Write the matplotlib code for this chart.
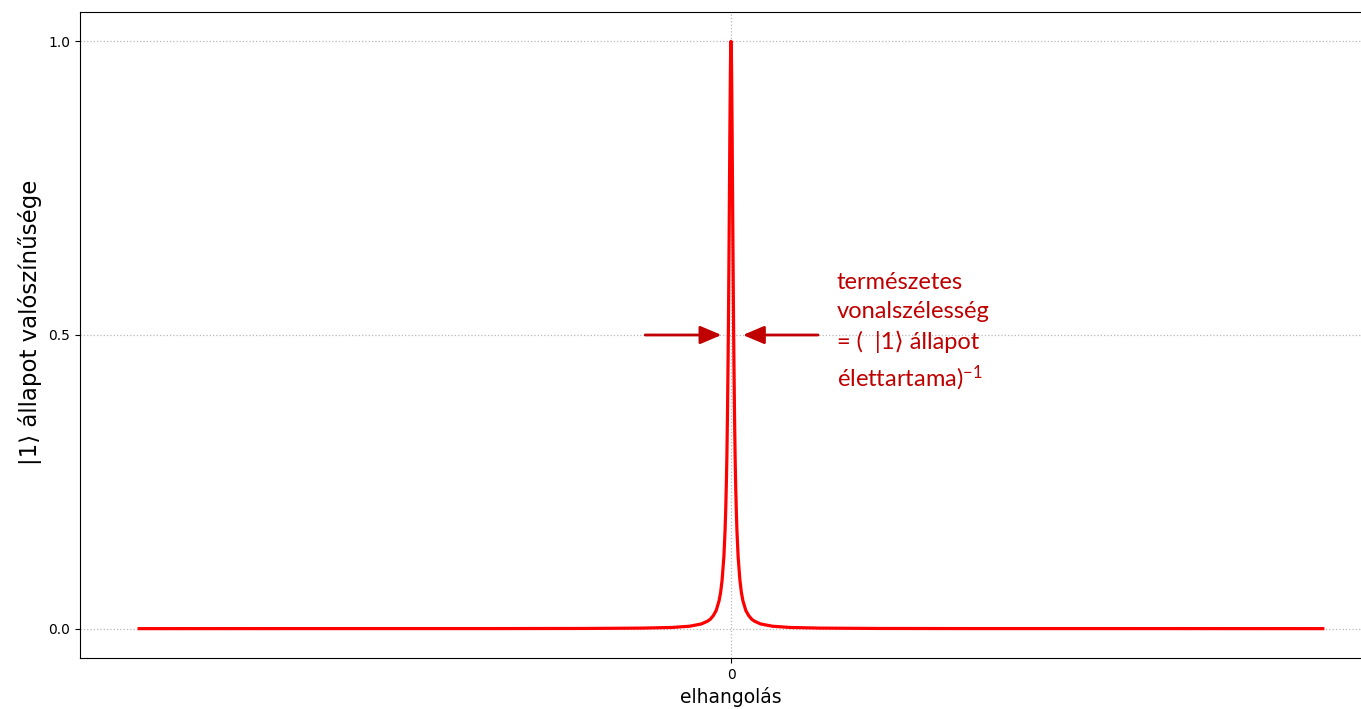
import matplotlib
matplotlib.use("Agg")
import matplotlib.pyplot as plt

# Values (detuning in arbitrary units, probability)
detuning = [-100, -60, -40, -25, -15, -10, -7, -5, -4, -3.5, -3, -2.5, -2, -1.75, -1.5,
            -1.2, -1.0, -0.9, -0.8, -0.7, -0.6, -0.5, -0.45, -0.4, -0.3, -0.2, -0.1, -0.05,
            0.0,
            0.05, 0.1, 0.2, 0.3, 0.4, 0.45, 0.5, 0.6, 0.7, 0.8, 0.9, 1.0, 1.2,
            1.5, 1.75, 2, 2.5, 3, 3.5, 4, 5, 7, 10, 15, 25, 40, 60, 100]
probability = [0.0, 0.0001, 0.0001, 0.0003, 0.0009, 0.002, 0.0041, 0.008, 0.0125, 0.016,
               0.022, 0.031, 0.048, 0.062, 0.083, 0.123, 0.168, 0.2, 0.24, 0.29, 0.36,
               0.45, 0.5, 0.56, 0.69, 0.835, 0.953, 0.988,
               1.0,
               0.988, 0.953, 0.835, 0.69, 0.56, 0.5, 0.45, 0.36, 0.29, 0.24, 0.2, 0.168,
               0.123, 0.083, 0.062, 0.048, 0.031, 0.022, 0.016, 0.0125, 0.008, 0.0041,
               0.002, 0.0009, 0.0003, 0.0001, 0.0001, 0.0]
y_ticks = [0.0, 0.5, 1.0]
y_tick_labels = ["0.0", "0.5", "1.0"]
x_ticks = [0]
x_tick_labels = ["0"]
annotation_text = "természetes\nvonalszélesség\n= (  |1⟩ állapot\nélettartama)$^{-1}$"
half_max = 0.5
arrow_left = (-14.5, -1.6)
arrow_right = (14.7, 2.0)

plt.rcParams['mathtext.fontset'] = 'custom'
plt.rcParams['mathtext.rm'] = 'Lato'
plt.rcParams['mathtext.default'] = 'regular'

fig = plt.figure(figsize=(13.61, 7.09), dpi=100)
ax = fig.add_axes([80 / 1361, 1 - 658 / 709, 1302 / 1361, 646 / 709])

ax.plot(detuning, probability, color="red", linewidth=2.3, zorder=3)

ax.set_yticks(y_ticks)
ax.set_yticklabels(y_tick_labels, fontsize=10)
ax.set_xticks(x_ticks)
ax.set_xticklabels(x_tick_labels, fontsize=10)
ax.grid(True, linestyle=":", color="#b8b8b8", linewidth=0.9)
ax.set_axisbelow(True)

ax.set_xlabel("elhangolás", fontsize=13.5)
ax.set_ylabel("|1⟩ állapot valószínűsége", fontsize=16.5)
ax.yaxis.set_label_coords(-0.029, 0.52)

dark_red = "#C00000"
ax.annotate("", xy=(arrow_left[1], half_max), xytext=(arrow_left[0], half_max),
            arrowprops=dict(arrowstyle="-|>,head_length=1.3,head_width=0.55",
                            color=dark_red, lw=2, shrinkA=0, shrinkB=0))
ax.annotate("", xy=(arrow_right[1], half_max), xytext=(arrow_right[0], half_max),
            arrowprops=dict(arrowstyle="-|>,head_length=1.3,head_width=0.55",
                            color=dark_red, lw=2, shrinkA=0, shrinkB=0))

ax.text(17.9, 0.607, annotation_text, color=dark_red, fontsize=17,
        family=["Lato", "DejaVu Sans"], va="top", ha="left", linespacing=1.47)

fig.savefig("out.png", dpi=100)
